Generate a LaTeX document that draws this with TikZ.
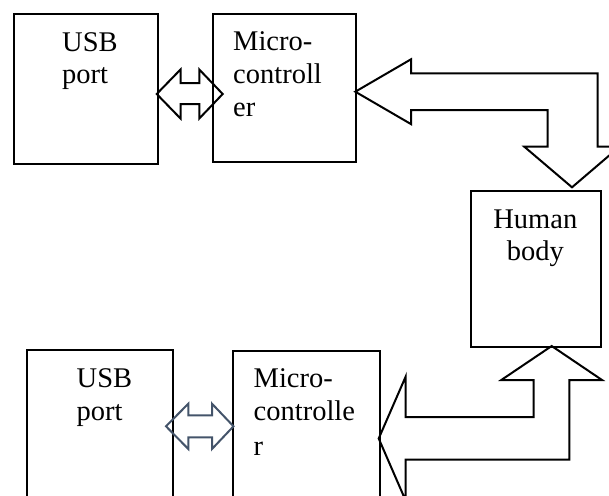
\documentclass[tikz,border=0pt]{standalone}
\usepackage{fontspec}
\setmainfont{Liberation Serif}
\definecolor{slate}{HTML}{44546A}
\tikzset{
  boxst/.style={draw=black, line width=2pt, rectangle, inner sep=0pt, anchor=north west},
  lbl/.style={inner sep=0pt, font=\fontsize{28.5}{33.5}\selectfont},
  blk/.style={draw=black, line width=2pt, line join=miter},
  blu/.style={draw=slate, line width=2pt, line join=miter},
}
\begin{document}
\begin{tikzpicture}[x=1pt, y=-1pt]
\clip (0,0) rectangle (609,495);
% boxes
\node[boxst, minimum width=144pt, minimum height=149.4pt] (usb1) at (12.7,13.3) {};
\node[boxst, minimum width=143.3pt, minimum height=148.3pt] (mc1) at (212,12.7) {};
\node[boxst, minimum width=130pt, minimum height=156pt] (hb) at (470.3,190) {};
\node[boxst, minimum width=145.7pt, minimum height=180pt] (usb2) at (26,348.7) {};
\node[boxst, minimum width=146.4pt, minimum height=180pt] (mc2) at (232.3,349.7) {};
% texts
\node[lbl, anchor=base west] (t1a) at (62,51.7) {USB};
\node[lbl, anchor=base west] (t1b) at (62,83) {port};
\node[lbl, anchor=base west] (t2a) at (233,50) {Micro-};
\node[lbl, anchor=base west] (t2b) at (233,83) {controll};
\node[lbl, anchor=base west] (t2c) at (233,116.7) {er};
\node[lbl, anchor=base] (t3a) at (535.3,228) {Human};
\node[lbl, anchor=base] (t3b) at (535.3,260.3) {body};
\node[lbl, anchor=base west] (t4a) at (76.5,387) {USB};
\node[lbl, anchor=base west] (t4b) at (76.5,420.3) {port};
\node[lbl, anchor=base west] (t5a) at (253.5,387) {Micro-};
\node[lbl, anchor=base west] (t5b) at (253.5,420.3) {controlle};
\node[lbl, anchor=base west] (t5c) at (253.5,455.3) {r};
% top double arrow
\draw[blk] (156.7,94) -- (180.5,69.5) -- (180.5,83) -- (199.3,83) -- (199.3,69.5)
  -- (222.7,94) -- (199.3,118.5) -- (199.3,104) -- (180.5,104) -- (180.5,118.5) -- cycle;
% bottom double arrow
\draw[blu] (166,426.3) -- (188.3,403.7) -- (188.3,415.3) -- (212,415.3) -- (212,403.7)
  -- (233.5,426.3) -- (212,449) -- (212,437.3) -- (188.3,437.3) -- (188.3,449) -- cycle;
% top bent arrow
\draw[blk] (355.3,91.7) -- (411,59.3) -- (411,73.3) -- (597.7,73.3) -- (597.7,146.7)
  -- (619.5,146.7) -- (572,187.3) -- (524.3,146.7) -- (547.7,146.7) -- (547.7,110)
  -- (411,110) -- (411,124.1) -- cycle;
% bottom bent arrow
\draw[blk] (551.7,346) -- (602,380) -- (569.3,380) -- (569.3,459.5) -- (405.7,459.5)
  -- (405.7,500.7) -- (378.7,438.5) -- (405.7,376.5) -- (405.7,417) -- (533.7,417)
  -- (533.7,380) -- (501.3,380) -- cycle;
\end{tikzpicture}
\end{document}
